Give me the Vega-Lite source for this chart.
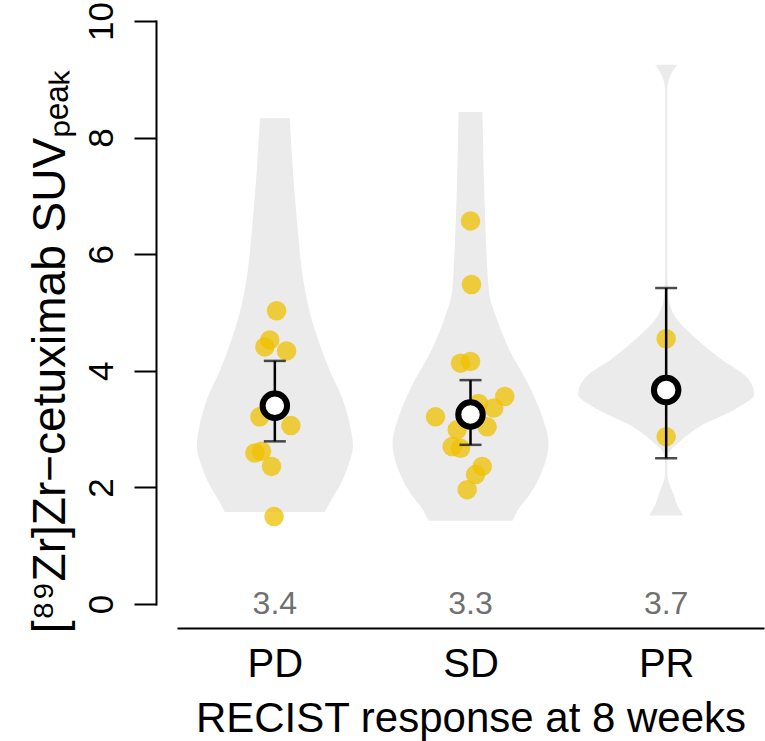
{
  "$schema": "https://vega.github.io/schema/vega-lite/v6.json",
  "width": 587,
  "height": 583,
  "autosize": "none",
  "padding": {"left": 177, "top": 21, "right": 1, "bottom": 137},
  "background": "white",
  "config": {
    "view": {"stroke": null},
    "font": "Liberation Sans"
  },
  "datasets": {
    "violin": [
      {"g": "PD", "v": 1.58, "lo": 0.744, "hi": 1.256},
      {"g": "PD", "v": 1.8, "lo": 0.709, "hi": 1.291},
      {"g": "PD", "v": 2.0, "lo": 0.673, "hi": 1.327},
      {"g": "PD", "v": 2.4, "lo": 0.622, "hi": 1.378},
      {"g": "PD", "v": 2.7, "lo": 0.601, "hi": 1.399},
      {"g": "PD", "v": 3.0, "lo": 0.612, "hi": 1.388},
      {"g": "PD", "v": 3.5, "lo": 0.652, "hi": 1.348},
      {"g": "PD", "v": 4.0, "lo": 0.719, "hi": 1.281},
      {"g": "PD", "v": 4.5, "lo": 0.775, "hi": 1.225},
      {"g": "PD", "v": 5.0, "lo": 0.821, "hi": 1.179},
      {"g": "PD", "v": 5.5, "lo": 0.852, "hi": 1.148},
      {"g": "PD", "v": 6.5, "lo": 0.885, "hi": 1.115},
      {"g": "PD", "v": 7.5, "lo": 0.909, "hi": 1.091},
      {"g": "PD", "v": 8.33, "lo": 0.924, "hi": 1.076},
      {"g": "SD", "v": 1.43, "lo": 1.785, "hi": 2.215},
      {"g": "SD", "v": 1.6, "lo": 1.760, "hi": 2.240},
      {"g": "SD", "v": 1.9, "lo": 1.693, "hi": 2.307},
      {"g": "SD", "v": 2.3, "lo": 1.632, "hi": 2.368},
      {"g": "SD", "v": 2.75, "lo": 1.601, "hi": 2.399},
      {"g": "SD", "v": 3.2, "lo": 1.632, "hi": 2.368},
      {"g": "SD", "v": 3.8, "lo": 1.709, "hi": 2.291},
      {"g": "SD", "v": 4.35, "lo": 1.800, "hi": 2.200},
      {"g": "SD", "v": 4.9, "lo": 1.867, "hi": 2.133},
      {"g": "SD", "v": 5.3, "lo": 1.903, "hi": 2.097},
      {"g": "SD", "v": 6.0, "lo": 1.918, "hi": 2.082},
      {"g": "SD", "v": 6.9, "lo": 1.928, "hi": 2.072},
      {"g": "SD", "v": 8.44, "lo": 1.939, "hi": 2.061},
      {"g": "PR", "v": 1.52, "lo": 2.913, "hi": 3.087},
      {"g": "PR", "v": 1.7, "lo": 2.944, "hi": 3.056},
      {"g": "PR", "v": 1.9, "lo": 2.964, "hi": 3.036},
      {"g": "PR", "v": 2.13, "lo": 2.990, "hi": 3.010},
      {"g": "PR", "v": 2.3, "lo": 2.995, "hi": 3.005},
      {"g": "PR", "v": 2.55, "lo": 2.990, "hi": 3.010},
      {"g": "PR", "v": 2.82, "lo": 2.918, "hi": 3.082},
      {"g": "PR", "v": 3.04, "lo": 2.831, "hi": 3.169},
      {"g": "PR", "v": 3.33, "lo": 2.652, "hi": 3.348},
      {"g": "PR", "v": 3.6, "lo": 2.550, "hi": 3.450},
      {"g": "PR", "v": 3.9, "lo": 2.591, "hi": 3.409},
      {"g": "PR", "v": 4.2, "lo": 2.719, "hi": 3.281},
      {"g": "PR", "v": 4.55, "lo": 2.847, "hi": 3.153},
      {"g": "PR", "v": 4.9, "lo": 2.949, "hi": 3.051},
      {"g": "PR", "v": 5.3, "lo": 2.990, "hi": 3.010},
      {"g": "PR", "v": 5.8, "lo": 2.995, "hi": 3.005},
      {"g": "PR", "v": 8.8, "lo": 2.995, "hi": 3.005},
      {"g": "PR", "v": 9.05, "lo": 2.980, "hi": 3.020},
      {"g": "PR", "v": 9.25, "lo": 2.944, "hi": 3.056}
    ],
    "points": [
      {"g": "PD", "x": 1.009, "y": 5.03},
      {"g": "PD", "x": 0.974, "y": 4.53},
      {"g": "PD", "x": 0.949, "y": 4.41},
      {"g": "PD", "x": 1.060, "y": 4.34},
      {"g": "PD", "x": 0.923, "y": 3.21},
      {"g": "PD", "x": 1.082, "y": 3.06},
      {"g": "PD", "x": 0.898, "y": 2.59},
      {"g": "PD", "x": 0.932, "y": 2.62},
      {"g": "PD", "x": 0.983, "y": 2.36},
      {"g": "PD", "x": 0.996, "y": 1.50},
      {"g": "SD", "x": 2.000, "y": 6.57},
      {"g": "SD", "x": 2.005, "y": 5.48},
      {"g": "SD", "x": 1.949, "y": 4.13},
      {"g": "SD", "x": 2.000, "y": 4.16},
      {"g": "SD", "x": 2.175, "y": 3.56},
      {"g": "SD", "x": 1.821, "y": 3.21},
      {"g": "SD", "x": 2.119, "y": 3.36},
      {"g": "SD", "x": 2.085, "y": 3.04},
      {"g": "SD", "x": 2.041, "y": 3.44},
      {"g": "SD", "x": 1.932, "y": 2.99},
      {"g": "SD", "x": 1.906, "y": 2.70},
      {"g": "SD", "x": 1.949, "y": 2.67},
      {"g": "SD", "x": 2.060, "y": 2.36},
      {"g": "SD", "x": 2.026, "y": 2.22},
      {"g": "SD", "x": 1.983, "y": 1.96},
      {"g": "PR", "x": 3.000, "y": 4.55},
      {"g": "PR", "x": 3.000, "y": 2.87}
    ],
    "summary": [
      {"g": "PD", "x": 1, "mean": 3.40, "lo": 2.79, "hi": 4.17, "label": "3.4"},
      {"g": "SD", "x": 2, "mean": 3.25, "lo": 2.73, "hi": 3.84, "label": "3.3"},
      {"g": "PR", "x": 3, "mean": 3.67, "lo": 2.50, "hi": 5.42, "label": "3.7"}
    ]
  },
  "layer": [
    {
      "data": {"name": "violin"},
      "mark": {"type": "area", "orient": "horizontal", "color": "#EBEBEB", "interpolate": "monotone"},
      "encoding": {
        "detail": {"field": "g"},
        "y": {
          "field": "v", "type": "quantitative",
          "title": "[⁸⁹Zr]Zr−cetuximab SUVₚₑₐₖ",
          "scale": {"domain": [0, 10], "nice": false, "zero": false},
          "axis": {
            "values": [0, 2, 4, 6, 8, 10],
            "format": "d",
            "grid": false,
            "offset": 21,
            "domainColor": "black", "domainWidth": 2, "domainCap": "square",
            "tickColor": "black", "tickWidth": 2, "tickSize": 22,
            "labelAngle": -90, "labelAlign": "center", "labelBaseline": "alphabetic",
            "labelFontSize": 35, "labelColor": "black", "labelPadding": 22,
            "labelFont": "Liberation Sans", "labelFlush": false, "labelOverlap": false,
            "titleFont": "Liberation Sans", "titleFontSize": 46, "titleFontWeight": "normal",
            "titleColor": "black",
            "titleAngle": -90, "titleAlign": "center", "titleBaseline": "alphabetic",
            "titleX": -92, "titleY": 330
          }
        },
        "x": {
          "field": "lo", "type": "quantitative",
          "title": "RECIST response at 8 weeks",
          "scale": {"domain": [0.5, 3.5], "nice": false, "zero": false},
          "axis": {
            "values": [1, 2, 3],
            "labelExpr": "datum.value == 1 ? 'PD' : datum.value == 2 ? 'SD' : 'PR'",
            "grid": false,
            "offset": 24,
            "ticks": false,
            "domainColor": "black", "domainWidth": 2,
            "labelFontSize": 40, "labelColor": "black", "labelPadding": 16,
            "labelFont": "Liberation Sans", "labelFlush": false, "labelOverlap": false,
            "titleFont": "Liberation Sans", "titleFontSize": 42, "titleFontWeight": "normal",
            "titleColor": "black", "titlePadding": 14
          }
        },
        "x2": {"field": "hi"}
      }
    },
    {
      "data": {"name": "points"},
      "mark": {"type": "circle", "color": "#EFC000", "opacity": 0.75, "size": 380},
      "encoding": {
        "x": {"field": "x", "type": "quantitative", "title": "RECIST response at 8 weeks"},
        "y": {"field": "y", "type": "quantitative", "title": "[⁸⁹Zr]Zr−cetuximab SUVₚₑₐₖ"}
      }
    },
    {
      "data": {"name": "summary"},
      "mark": {"type": "rule", "color": "black", "strokeWidth": 2.5},
      "encoding": {
        "x": {"field": "x", "type": "quantitative", "title": "RECIST response at 8 weeks"},
        "y": {"field": "lo", "type": "quantitative", "title": "[⁸⁹Zr]Zr−cetuximab SUVₚₑₐₖ"},
        "y2": {"field": "hi"}
      }
    },
    {
      "data": {"name": "summary"},
      "mark": {"type": "tick", "orient": "horizontal", "color": "black", "thickness": 2.5, "size": 22},
      "encoding": {
        "x": {"field": "x", "type": "quantitative", "title": "RECIST response at 8 weeks"},
        "y": {"field": "lo", "type": "quantitative", "title": "[⁸⁹Zr]Zr−cetuximab SUVₚₑₐₖ"}
      }
    },
    {
      "data": {"name": "summary"},
      "mark": {"type": "tick", "orient": "horizontal", "color": "black", "thickness": 2.5, "size": 22},
      "encoding": {
        "x": {"field": "x", "type": "quantitative", "title": "RECIST response at 8 weeks"},
        "y": {"field": "hi", "type": "quantitative", "title": "[⁸⁹Zr]Zr−cetuximab SUVₚₑₐₖ"}
      }
    },
    {
      "data": {"name": "summary"},
      "mark": {"type": "point", "shape": "circle", "filled": false, "fill": "white", "fillOpacity": 1, "stroke": "black", "strokeWidth": 6, "size": 600, "opacity": 1},
      "encoding": {
        "x": {"field": "x", "type": "quantitative", "title": "RECIST response at 8 weeks"},
        "y": {"field": "mean", "type": "quantitative", "title": "[⁸⁹Zr]Zr−cetuximab SUVₚₑₐₖ"}
      }
    },
    {
      "data": {"name": "summary"},
      "mark": {"type": "text", "color": "#707070", "fontSize": 32, "font": "Liberation Sans", "baseline": "middle", "align": "center"},
      "encoding": {
        "x": {"field": "x", "type": "quantitative", "title": "RECIST response at 8 weeks"},
        "y": {"datum": 0, "type": "quantitative", "title": "[⁸⁹Zr]Zr−cetuximab SUVₚₑₐₖ"},
        "text": {"field": "label"}
      }
    }
  ]
}
